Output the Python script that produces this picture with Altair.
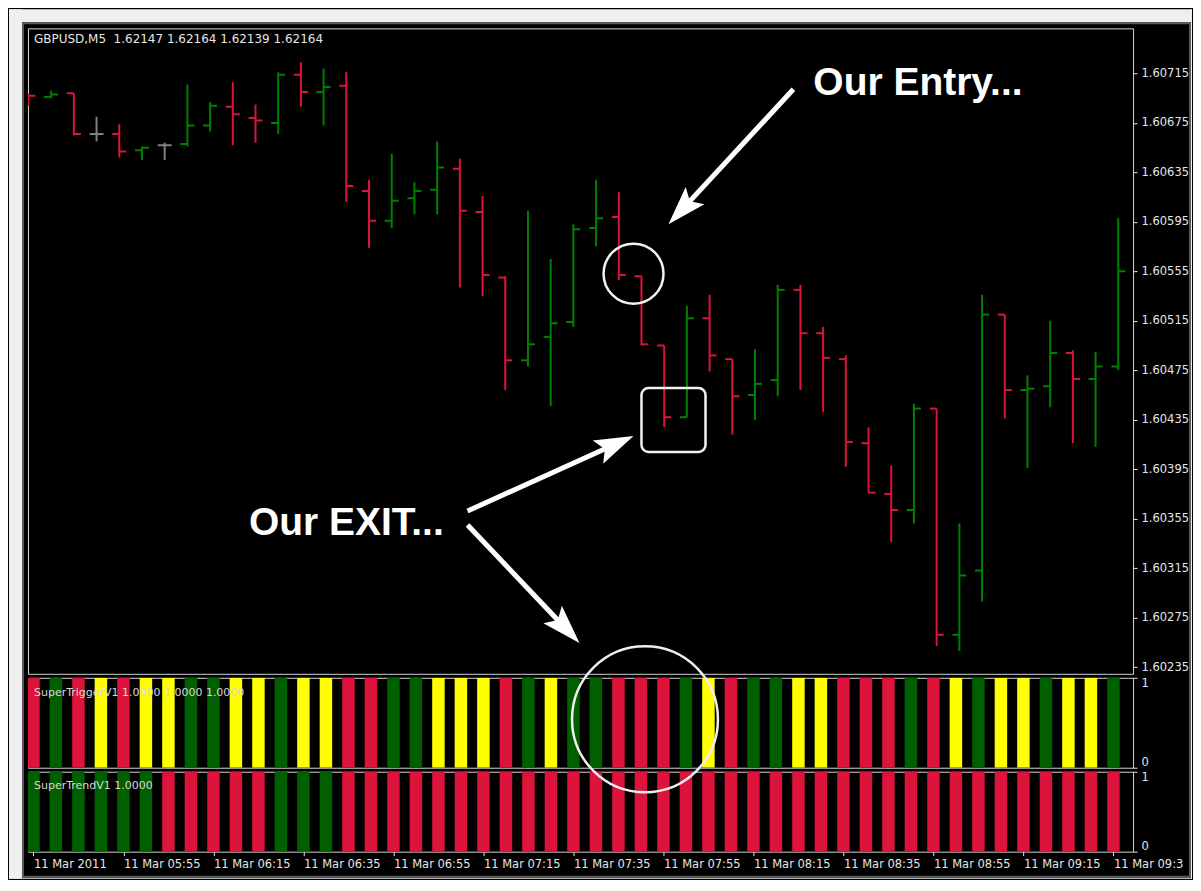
import json
import math

import altair as alt
import pandas as pd

# ---------------- data ----------------
bar_index = list(range(49))

open_ = [1.60698, 1.60696, 1.60699, 1.60666, 1.60666, 1.60653, 1.60657, 1.60658, 1.60673, 1.60688,
         1.60679, 1.60675, 1.60714, 1.60700, 1.60705, 1.60620, 1.60596, 1.60614, 1.60621, 1.60638,
         1.60603, 1.60550, 1.60483, 1.60502, 1.60514, 1.60590, 1.60599, 1.60551, 1.60495, 1.60437,
         1.60517, 1.60484, 1.60455, 1.60467, 1.60540, 1.60505, 1.60484, 1.60416, 1.60375, 1.60362,
         1.60444, 1.60261, 1.60313, 1.60520, 1.60459, 1.60462, 1.60489, 1.60468, 1.60478]
high = [1.60698, 1.60701, 1.60699, 1.60680, 1.60674, 1.60656, 1.60659, 1.60706, 1.60692, 1.60708,
        1.60690, 1.60716, 1.60724, 1.60719, 1.60716, 1.60629, 1.60650, 1.60627, 1.60660, 1.60646,
        1.60616, 1.60551, 1.60604, 1.60565, 1.60593, 1.60629, 1.60619, 1.60551, 1.60495, 1.60527,
        1.60536, 1.60484, 1.60492, 1.60544, 1.60544, 1.60510, 1.60487, 1.60429, 1.60398, 1.60448,
        1.60444, 1.60351, 1.60536, 1.60520, 1.60471, 1.60515, 1.60491, 1.60490, 1.60598]
low = [1.60689, 1.60695, 1.60665, 1.60660, 1.60647, 1.60645, 1.60645, 1.60656, 1.60668, 1.60657,
       1.60659, 1.60666, 1.60688, 1.60673, 1.60611, 1.60574, 1.60590, 1.60601, 1.60601, 1.60542,
       1.60535, 1.60459, 1.60478, 1.60446, 1.60510, 1.60575, 1.60548, 1.60495, 1.60429, 1.60437,
       1.60474, 1.60423, 1.60435, 1.60454, 1.60459, 1.60441, 1.60397, 1.60376, 1.60336, 1.60351,
       1.60252, 1.60248, 1.60288, 1.60436, 1.60396, 1.60445, 1.60416, 1.60413, 1.60475]
close = [1.60697, 1.60698, 1.60666, 1.60666, 1.60652, 1.60655, 1.60657, 1.60673, 1.60689, 1.60682,
         1.60677, 1.60714, 1.60700, 1.60704, 1.60624, 1.60596, 1.60612, 1.60620, 1.60639, 1.60604,
         1.60552, 1.60483, 1.60496, 1.60513, 1.60589, 1.60598, 1.60552, 1.60496, 1.60437, 1.60517,
         1.60487, 1.60454, 1.60464, 1.60540, 1.60505, 1.60485, 1.60417, 1.60376, 1.60362, 1.60444,
         1.60261, 1.60309, 1.60520, 1.60459, 1.60460, 1.60489, 1.60468, 1.60478, 1.60555]

price_ticks = [1.60715, 1.60675, 1.60635, 1.60595, 1.60555, 1.60515, 1.60475,
               1.60435, 1.60395, 1.60355, 1.60315, 1.60275, 1.60235]
time_tick_bars = [0, 4, 8, 12, 16, 20, 24, 28, 32, 36, 40, 44, 48]
time_labels = ["11 Mar 2011", "11 Mar 05:55", "11 Mar 06:15", "11 Mar 06:35", "11 Mar 06:55",
               "11 Mar 07:15", "11 Mar 07:35", "11 Mar 07:55", "11 Mar 08:15", "11 Mar 08:35",
               "11 Mar 08:55", "11 Mar 09:15", "11 Mar 09:3"]

trigger_color = ["red", "green", "red", "yellow", "red", "yellow", "yellow", "green", "green", "yellow",
                 "yellow", "green", "yellow", "yellow", "red", "red", "green", "green", "yellow", "yellow",
                 "yellow", "red", "green", "yellow", "green", "green", "red", "red", "red", "green",
                 "yellow", "red", "green", "green", "yellow", "yellow", "red", "red", "red", "green",
                 "red", "yellow", "green", "yellow", "yellow", "green", "yellow", "yellow", "green"]
trigger_value = [1, 1, 1, 1, 1, 1, 1, 1, 1, 1, 1, 1, 1, 1, 1, 1, 1, 1, 1, 1, 1, 1, 1, 1, 1,
                 1, 1, 1, 1, 1, 1, 1, 1, 1, 1, 1, 1, 1, 1, 1, 1, 1, 1, 1, 1, 1, 1, 1, 1]
trend_color = ["green", "green", "green", "green", "green", "green", "red", "red", "red", "red",
               "red", "green", "green", "green", "red", "red", "red", "red", "red", "red",
               "red", "red", "red", "red", "red", "red", "red", "red", "red", "red",
               "red", "red", "red", "red", "red", "red", "red", "red", "red", "red",
               "red", "red", "red", "red", "red", "red", "red", "red", "red"]
trend_value = [1, 1, 1, 1, 1, 1, 1, 1, 1, 1, 1, 1, 1, 1, 1, 1, 1, 1, 1, 1, 1, 1, 1, 1, 1,
               1, 1, 1, 1, 1, 1, 1, 1, 1, 1, 1, 1, 1, 1, 1, 1, 1, 1, 1, 1, 1, 1, 1, 1]

chart_title = "GBPUSD,M5\u00a0\u00a01.62147 1.62164 1.62139 1.62164"
trigger_title = "SuperTriggerV1 1.0000 1.0000 1.0000"
trend_title = "SuperTrendV1 1.0000"

# annotations (bar index / price units)
note_text = ["Our Entry...", "Our EXIT..."]
note_x = [34.57, 9.71]
note_y = [1.606974, 1.603418]
arrow_x0 = [33.69, 19.34, 19.34]
arrow_y0 = [1.607022, 1.603612, 1.603499]
arrow_x1 = [28.19, 26.65, 24.27]
arrow_y1 = [1.605931, 1.604218, 1.602545]
entry_circle_x = [26.65]
entry_circle_y = [1.605531]
exit_box_x = [27.00]
exit_box_x2 = [29.82]
exit_box_y = [1.604606]
exit_box_y2 = [1.604089]
exit_ring_x = [27.18]
exit_ring_y = [1.656]

# ---------------- styling ----------------
FONT = "DejaVu Sans"
LABEL = "#e6e6e6"
PALETTE = {"red": "#DC143C", "green": "#006000", "yellow": "#FFFF00",
           "bull": "#008000", "bear": "#DC143C", "doji": "#808080"}
W = 1106
H_PRICE = 646
H_IND1 = 90
H_IND2 = 80
X_DOMAIN = [-0.02, 48.65]
Y_DOMAIN = [1.602295, 1.607515]

xs = alt.Scale(domain=X_DOMAIN, nice=False, zero=False)
ys = alt.Scale(domain=Y_DOMAIN, nice=False, zero=False)
ind_ys = alt.Scale(domain=[0, 1], nice=False, zero=False)

one_row = pd.DataFrame({"k": [0]})

price_axis = alt.Axis(orient="right", values=price_ticks, format=".5f", title=None,
                      domain=False, grid=False, tickSize=4, tickColor=LABEL, tickWidth=1,
                      labelColor=LABEL, labelFont=FONT, labelFontSize=11.5, labelPadding=4,
                      labelOverlap=False)
ind_axis = alt.Axis(orient="right", values=[0, 1], format="d", title=None, domain=False,
                    grid=False, tickSize=4, tickColor=LABEL, labelColor=LABEL, labelFont=FONT,
                    labelFontSize=11.5, labelPadding=4, labelFlush=True)
label_expr = f"{json.dumps(time_labels)}[indexof({json.dumps(time_tick_bars)}, datum.value)]"
x_axis = alt.Axis(orient="bottom", values=time_tick_bars, labelExpr=label_expr, title=None,
                  domain=False, grid=False, tickSize=4, tickColor=LABEL, labelColor=LABEL,
                  labelFont=FONT, labelFontSize=11.5, labelAlign="left", labelBaseline="top",
                  labelPadding=3, labelOverlap=False, labelFlush=False, labelBound=False)

# ---------------- price panel ----------------
kinds = []
for o, c in zip(open_, close):
    if abs(c - o) < 1e-9:
        kinds.append("doji")
    elif c > o:
        kinds.append("bull")
    else:
        kinds.append("bear")

price_df = pd.DataFrame({"i": bar_index, "open": open_, "high": high,
                         "low": low, "close": close,
                         "hex": [PALETTE[k] for k in kinds]})
ohlc_color = alt.Color("hex:N", scale=None, legend=None)

PX = alt.X("i:Q", scale=xs, axis=None)

base = alt.Chart(price_df)
hl = base.mark_rule(strokeWidth=2, clip=True).encode(
    x=PX,
    y=alt.Y("low:Q", scale=ys, axis=price_axis),
    y2="high:Q",
    color=ohlc_color,
)
open_tick = base.mark_rule(strokeWidth=2, clip=True, x2Offset=-7).encode(
    x=PX, x2="i:Q",
    y=alt.Y("open:Q", scale=ys, axis=price_axis),
    color=ohlc_color,
)
close_tick = base.mark_rule(strokeWidth=2, clip=True, x2Offset=7).encode(
    x=PX, x2="i:Q",
    y=alt.Y("close:Q", scale=ys, axis=price_axis),
    color=ohlc_color,
)
title_mark = alt.Chart(pd.DataFrame({"t": [chart_title]})).mark_text(
    align="left", baseline="middle", font=FONT, fontSize=12, color=LABEL
).encode(text="t:N", x=alt.value(6), y=alt.value(11))

notes = alt.Chart(pd.DataFrame({"label": note_text, "x": note_x, "y": note_y})).mark_text(
    align="left", baseline="alphabetic", font="Liberation Sans", fontWeight="bold",
    fontSize=39, color="white"
).encode(
    x=alt.X("x:Q", scale=xs, axis=None),
    y=alt.Y("y:Q", scale=ys, axis=price_axis),
    text="label:N",
)

# arrows: shaft + head, angle from on-screen direction
PX_X = W / (X_DOMAIN[1] - X_DOMAIN[0])
PX_Y = H_PRICE / (Y_DOMAIN[1] - Y_DOMAIN[0])
HEAD_BACK = 22.0
rows = []
for x0, y0, x1, y1 in zip(arrow_x0, arrow_y0, arrow_x1, arrow_y1):
    dx = (x1 - x0) * PX_X
    dy = -(y1 - y0) * PX_Y
    length = math.hypot(dx, dy)
    ang = math.degrees(math.atan2(dx, -dy)) % 360
    f = HEAD_BACK / length
    rows.append({"x0": x0, "y0": y0, "x1": x1, "y1": y1,
                 "xe": x1 - (x1 - x0) * f, "ye": y1 - (y1 - y0) * f, "ang": ang})
arrow_df = pd.DataFrame(rows)

shafts = alt.Chart(arrow_df).mark_rule(strokeWidth=5, color="white").encode(
    x=alt.X("x0:Q", scale=xs, axis=None),
    y=alt.Y("y0:Q", scale=ys, axis=price_axis),
    x2="xe:Q",
    y2="ye:Q",
)
ARROW_PATH = "M0,0 L0.75,2.3 L0,1.85 L-0.75,2.3 Z"
heads = alt.Chart(arrow_df).mark_point(shape=ARROW_PATH, filled=True, size=1156,
                                       opacity=1, color="white").encode(
    x=alt.X("x1:Q", scale=xs, axis=None),
    y=alt.Y("y1:Q", scale=ys, axis=price_axis),
    angle=alt.Angle("ang:Q", scale=None),
)
entry_circle = alt.Chart(pd.DataFrame({"x": entry_circle_x, "y": entry_circle_y})).mark_point(
    shape="circle", size=3600, filled=False, opacity=1, color="#f2f2f2", strokeWidth=2.5
).encode(x=alt.X("x:Q", scale=xs, axis=None), y=alt.Y("y:Q", scale=ys, axis=price_axis))

exit_box = alt.Chart(pd.DataFrame({"x": exit_box_x, "x2": exit_box_x2,
                                   "y": exit_box_y, "y2": exit_box_y2})).mark_rect(
    fillOpacity=0, stroke="#f2f2f2", strokeWidth=2.5, cornerRadius=7
).encode(
    x=alt.X("x:Q", scale=xs, axis=None),
    x2="x2:Q",
    y=alt.Y("y:Q", scale=ys, axis=price_axis),
    y2="y2:Q",
)

price_panel = alt.layer(hl, open_tick, close_tick, title_mark, notes, shafts, heads,
                        entry_circle, exit_box).properties(width=W, height=H_PRICE)

# ---------------- indicator panels ----------------
trig_df = pd.DataFrame({"i": bar_index, "v": trigger_value,
                        "hex": [PALETTE[c] for c in trigger_color],
                        "b": [0] * len(bar_index)})
trig_bars = alt.Chart(trig_df).mark_bar(size=12.5, clip=True).encode(
    x=PX,
    y=alt.Y("v:Q", scale=ind_ys, axis=ind_axis),
    y2="b:Q",
    color=alt.Color("hex:N", scale=None, legend=None),
)
trig_label = alt.Chart(pd.DataFrame({"t": [trigger_title]})).mark_text(
    align="left", baseline="middle", font=FONT, fontSize=11, color="#d8d8d8"
).encode(text="t:N", x=alt.value(6), y=alt.value(15))
ind1 = alt.layer(trig_bars, trig_label).properties(width=W, height=H_IND1)

trend_df = pd.DataFrame({"i": bar_index, "v": trend_value,
                         "hex": [PALETTE[c] for c in trend_color],
                         "b": [0] * len(bar_index)})
trend_bars = alt.Chart(trend_df).mark_bar(size=12.5, clip=True).encode(
    x=alt.X("i:Q", scale=xs, axis=x_axis),
    y=alt.Y("v:Q", scale=ind_ys, axis=ind_axis),
    y2="b:Q",
    color=alt.Color("hex:N", scale=None, legend=None),
)
trend_label = alt.Chart(pd.DataFrame({"t": [trend_title]})).mark_text(
    align="left", baseline="middle", font=FONT, fontSize=11, color="#d8d8d8"
).encode(text="t:N", x=alt.value(6), y=alt.value(14))

exit_ring = alt.Chart(pd.DataFrame({"x": exit_ring_x, "y": exit_ring_y})).mark_point(
    shape="circle", size=21316, filled=False, opacity=1, color="#eeeeee", strokeWidth=2.5
).encode(x=alt.X("x:Q", scale=xs, axis=x_axis), y=alt.Y("y:Q", scale=ind_ys, axis=ind_axis))


def deco_rect(x, x2, y, y2, **kw):
    return alt.Chart(one_row).mark_rect(**kw).encode(
        x=alt.value(x), x2=alt.value(x2), y=alt.value(y), y2=alt.value(y2))


# window frame (coordinates relative to the last panel's plot origin)
FRAME = "#efefef"
frame_top = deco_rect(-19, 1165, -763, -750, color=FRAME)
frame_left = deco_rect(-19, -6, -763, 107, color=FRAME)
frame_right = deco_rect(1164, 1165, -763, 107, color=FRAME)
frame_bottom = deco_rect(-19, 1165, 106, 107, color=FRAME)
frame_line = deco_rect(-5, 1163, -749, 105, fillOpacity=0, stroke="#5a5a5a", strokeWidth=2)

ind2 = alt.layer(trend_bars, trend_label, exit_ring, frame_top, frame_left, frame_right,
                 frame_bottom, frame_line).properties(width=W, height=H_IND2)

chart = alt.vconcat(price_panel, ind1, ind2, spacing=4, bounds="flush").properties(
    background="#000000", padding=0
).configure_view(stroke="#d4d4d4", strokeWidth=1)

chart.save("out.html", embed_options={"renderer": "svg", "actions": False})
